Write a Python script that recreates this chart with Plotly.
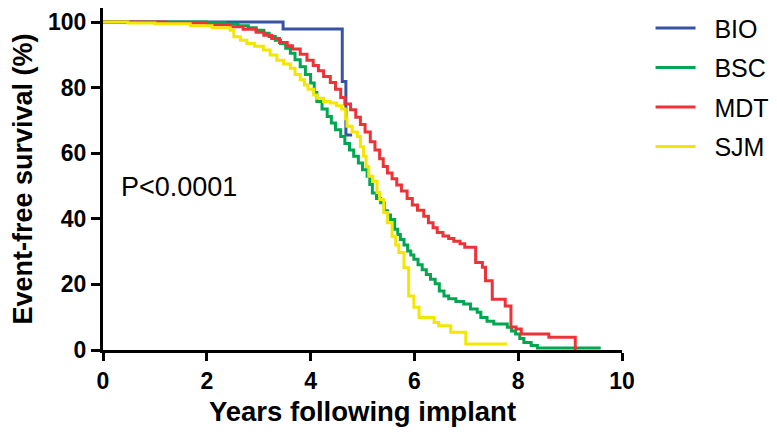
import plotly.graph_objects as go

# ---- data ----
bio_t = [0, 3.47, 4.61, 4.68, 4.80]
bio_s = [100, 97.9, 81.9, 65.6, 65.6]

bsc_t = [0, 2.0, 2.35, 2.6, 2.8, 2.95, 3.1, 3.2, 3.32, 3.42, 3.52, 3.61, 3.70, 3.80, 3.90, 4.0,
         4.07, 4.12, 4.22, 4.32, 4.40, 4.48, 4.58, 4.66, 4.75, 4.83, 4.92, 5.00, 5.09, 5.14,
         5.19, 5.27, 5.35, 5.42, 5.48, 5.54, 5.62, 5.68, 5.73, 5.80, 5.87, 5.93, 5.99, 6.07,
         6.15, 6.23, 6.31, 6.40, 6.48, 6.57, 6.66, 6.80, 6.95, 7.08, 7.21, 7.28, 7.40, 7.53,
         7.79, 7.87, 7.95, 8.03, 8.11, 8.25, 8.37, 9.59]
bsc_s = [100, 99.8, 99.4, 98.9, 98.3, 97.5, 96.6, 95.6, 94.5, 93.5, 92.0, 90.5, 88.5, 86.4, 84.0, 81.4,
         78.5, 75.8, 73.5, 71.2, 69.2, 67.2, 65.1, 63.0, 61.0, 59.1, 57.0, 55.0, 53.0, 50.5,
         47.9, 46.2, 44.9, 42.5, 41.2, 39.8, 36.8, 35.2, 33.7, 32.0, 30.2, 29.0, 27.7, 26.0,
         24.5, 23.0, 21.6, 20.2, 18.0, 16.5, 15.6, 14.8, 14.0, 12.5, 11.5, 9.9, 8.8, 7.9,
         6.9, 5.8, 4.9, 3.5, 2.3, 1.4, 0.6, 0.6]

mdt_t = [0, 1.2, 2.0, 2.45, 2.7, 2.95, 3.1, 3.25, 3.4, 3.55, 3.65, 3.8, 3.93, 4.05, 4.15, 4.25,
         4.38, 4.48, 4.58, 4.66, 4.77, 4.87, 4.96, 5.05, 5.15, 5.24, 5.33, 5.40, 5.48, 5.57,
         5.66, 5.75, 5.86, 5.96, 6.06, 6.18, 6.27, 6.36, 6.44, 6.55, 6.66, 6.76, 6.88, 6.97,
         7.18, 7.31, 7.37, 7.50, 7.75, 7.86, 7.96, 8.06, 8.59, 9.10]
mdt_s = [100, 99.7, 99.2, 98.6, 97.8, 96.9, 96.0, 95.0, 93.8, 92.8, 91.8, 90.2, 88.4, 86.8, 85.2, 83.4,
         81.6, 79.5, 77.0, 75.0, 73.3, 71.0, 68.8, 66.5, 63.5, 61.0, 58.3, 56.0, 54.0, 52.2,
         50.3, 48.5, 46.2, 44.2, 42.6, 40.8, 38.8, 37.3, 35.8, 34.8, 34.0, 33.2, 32.4, 31.3,
         26.7, 25.2, 21.1, 15.5, 13.4, 7.0, 6.4, 4.9, 3.9, 0]

sjm_t = [0, 0.48, 1.0, 1.68, 2.1, 2.45, 2.52, 2.65, 2.77, 2.92, 3.09, 3.22, 3.35, 3.48, 3.61, 3.70,
         3.80, 3.88, 3.95, 4.06, 4.12, 4.25, 4.38, 4.50, 4.60, 4.67, 4.70, 4.80, 4.90, 4.96,
         5.02, 5.07, 5.12, 5.20, 5.28, 5.33, 5.41, 5.48, 5.57, 5.64, 5.70, 5.80, 5.89, 5.99,
         6.09, 6.38, 6.47, 6.70, 6.99, 7.79]
sjm_s = [100, 99.7, 99.5, 98.9, 98.3, 97.5, 95.5, 94.5, 93.5, 92.6, 91.5, 90.0, 88.4, 87.2, 85.9, 84.0,
         82.4, 80.8, 79.5, 77.8, 76.8, 75.8, 75.3, 74.5, 73.5, 70.5, 68.2, 66.5, 65.1, 62.0,
         59.1, 56.0, 53.0, 51.5, 48.0, 45.9, 41.9, 38.8, 34.7, 32.0, 29.7, 25.1, 16.5, 13.0,
         9.9, 8.4, 7.4, 5.4, 1.8, 1.8]

series_names = ["BIO", "BSC", "MDT", "SJM"]
series_colors = ["#3853A4", "#00A650", "#EE3338", "#F3E600"]
x_ticks = [0, 2, 4, 6, 8, 10]
y_ticks = [0, 20, 40, 60, 80, 100]
p_text = "P<0.0001"

FONT = "Liberation Sans, Arial, sans-serif"
NB = "\u00a0\u00a0"

fig = go.Figure()
for name, color, t, s in zip(series_names, series_colors,
                             [bio_t, bsc_t, mdt_t, sjm_t],
                             [bio_s, bsc_s, mdt_s, sjm_s]):
    fig.add_trace(go.Scatter(x=t, y=s, mode="lines", name=NB + name, legendgroup=name,
                             line=dict(color=color, width=3, shape="hv")))

fig.add_annotation(x=0.31, y=49.8, xref="x", yref="y", text=p_text, showarrow=False,
                   xanchor="left", yanchor="middle",
                   font=dict(family=FONT, size=27, color="black"))

# the page body adds an 8px offset, so the figure is 8px smaller than the window
fig.update_layout(
    width=769, height=426,
    margin=dict(l=95, r=155, t=0, b=84, autoexpand=False),
    paper_bgcolor="white", plot_bgcolor="white",
    font=dict(family=FONT, color="black"),
    legend=dict(x=1.055, y=1.008, xanchor="left", yanchor="top",
                font=dict(family=FONT, size=25, color="black"),
                bgcolor="rgba(0,0,0,0)", itemwidth=40,
                traceorder="grouped", tracegroupgap=4),
    xaxis=dict(range=[0, 10], tickvals=x_ticks, ticks="outside", ticklen=8, tickwidth=3,
               tickcolor="black", showline=True, linecolor="black", linewidth=3,
               showgrid=False, zeroline=False, automargin=False,
               tickfont=dict(family=FONT, size=23, color="black", weight="bold"),
               title=dict(text="<b>Years following implant</b>", standoff=10,
                          font=dict(family=FONT, size=27.5, color="black"))),
    yaxis=dict(range=[0, 104.3], tickvals=y_ticks, ticks="outside", ticklen=9, tickwidth=3,
               tickcolor="black", showline=True, linecolor="black", linewidth=3,
               showgrid=False, zeroline=False, automargin=False,
               tickfont=dict(family=FONT, size=23, color="black", weight="bold"),
               title=dict(text="<b>Event-free survival (%)</b>", standoff=11,
                          font=dict(family=FONT, size=27, color="black"))),
)

fig.write_html("out.html")
